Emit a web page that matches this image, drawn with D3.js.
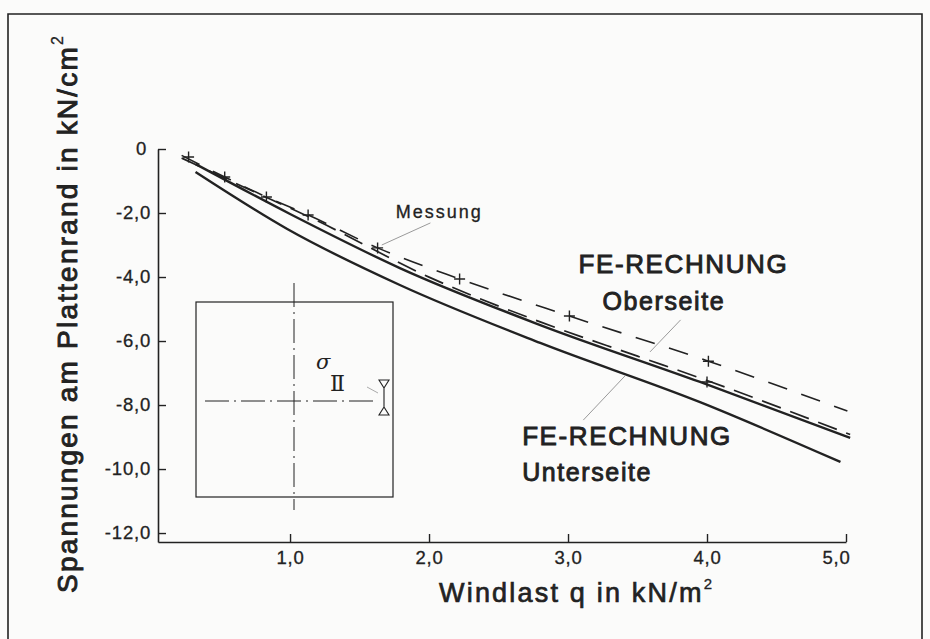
<!DOCTYPE html>
<html>
<head>
<meta charset="utf-8">
<script src="https://cdn.jsdelivr.net/npm/d3@7"></script>
<style>
  html, body { margin: 0; padding: 0; background: #fbfbfa; }
  svg { display: block; font-family: "Liberation Sans", Arial, Helvetica, sans-serif; }
</style>
</head>
<body>
<div id="chart"></div>
<script>
// Windlast q in kN/m2 against edge stress in kN/cm2
const qOberseite = [0.32, 1.0, 1.79, 2.8, 3.95, 5.03];
const sOberseite = [-0.47, -2.03, -3.72, -5.5, -7.28, -9.03];

const qUnterseite = [0.32, 0.98, 1.79, 2.8, 3.95, 4.96];
const sUnterseite = [-0.72, -2.5, -4.25, -6.06, -7.91, -9.78];

// measured points (crosses) and the dashed line through them
const qMessung = [0.27, 0.53, 0.83, 1.13, 1.63, 2.22, 3.01, 4.01];
const sMessung = [-0.25, -0.875, -1.5, -2.06, -3.09, -4.06, -5.22, -6.63];
const qMessLinie = [0.22, 0.53, 0.83, 1.13, 1.63, 2.22, 3.01, 4.01, 5.01];
const sMessLinie = [-0.2, -0.875, -1.5, -2.06, -3.09, -4.06, -5.22, -6.63, -8.19];

// second dashed line, lying on top of the Oberseite curve
const qMess2 = [0.22, 0.65, 1.2, 2.0, 2.8, 3.5, 4.0, 5.03];
const sMess2 = [-0.33, -1.2, -2.3, -4.05, -5.45, -6.52, -7.28, -8.97];
const qMess2Punkte = [4.0];
const sMess2Punkte = [-7.28];

const xTicks = [1, 2, 3, 4, 5];
const yTicks = [0, -2, -4, -6, -8, -10, -12];

const width = 930, height = 639;
const ink = "#222";

const x = d3.scaleLinear().domain([0.05, 5]).range([158, 846]);
const y = d3.scaleLinear().domain([-12.28, 0]).range([542, 149]);

const fmt = d => d === 0 ? "0" : d.toFixed(1).replace(".", ",");

const svg = d3.select("#chart").append("svg")
    .attr("width", width)
    .attr("height", height);

// page frame
svg.append("path")
    .attr("d", "M8,650 V14 H922 V650")
    .attr("fill", "none")
    .attr("stroke", ink)
    .attr("stroke-width", 1.6);

// axes
const xAxis = svg.append("g")
    .attr("transform", `translate(0,${y.range()[0]})`)
    .call(d3.axisBottom(x).tickValues(xTicks).tickFormat(fmt)
        .tickSizeInner(-8).tickSizeOuter(0).tickPadding(9));

const yAxis = svg.append("g")
    .attr("transform", `translate(${x.range()[0]},0)`)
    .call(d3.axisLeft(y).tickValues(yTicks).tickFormat(fmt)
        .tickSizeInner(-8).tickSizeOuter(0).tickPadding(7));

[xAxis, yAxis].forEach(g => {
  g.select(".domain").attr("stroke", ink).attr("stroke-width", 1.6);
  g.selectAll(".tick line").attr("stroke", ink).attr("stroke-width", 1.4);
  g.selectAll(".tick text")
      .attr("fill", ink)
      .attr("stroke", ink)
      .attr("stroke-width", 0.3)
      .style("font-size", "18.5px")
      .style("letter-spacing", "0.8px");
});
xAxis.selectAll(".tick text").filter(d => d === 5).attr("dx", -10);
yAxis.selectAll(".tick text").filter(d => d === 0).attr("dx", -4);

// axis titles
const xt = svg.append("text")
    .attr("x", 439)
    .attr("y", 602)
    .attr("fill", ink)
    .attr("stroke", ink)
    .attr("stroke-width", 0.7)
    .style("font-size", "27px")
    .style("letter-spacing", "2.2px")
    .text("Windlast q in kN/m");
xt.append("tspan").attr("dy", -13).attr("stroke-width", 0.3).style("font-size", "15px").text("2");

const yt = svg.append("text")
    .attr("transform", "translate(77,593) rotate(-90)")
    .attr("fill", ink)
    .attr("stroke", ink)
    .attr("stroke-width", 0.9)
    .style("font-size", "28px")
    .style("letter-spacing", "2.2px")
    .text("Spannungen am Plattenrand in kN/cm");
yt.append("tspan").attr("dy", -14).attr("stroke-width", 0.3).style("font-size", "16px").text("2");

// curves
const line = d3.line()
    .x(d => x(d[0]))
    .y(d => y(d[1]))
    .curve(d3.curveMonotoneX);

const series = [
  {q: qOberseite, s: sOberseite, w: 2.4, dash: null},
  {q: qUnterseite, s: sUnterseite, w: 2.4, dash: null},
  {q: qMessLinie, s: sMessLinie, w: 1.6, dash: "20,15"},
  {q: qMess2, s: sMess2, w: 1.7, dash: "20,10", dy: -1.5}
];

svg.append("g")
    .attr("fill", "none")
    .selectAll("path")
    .data(series)
    .join("path")
    .attr("transform", d => `translate(0,${d.dy || 0})`)
    .attr("stroke", ink)
    .attr("stroke-width", d => d.w)
    .attr("stroke-dasharray", d => d.dash)
    .attr("d", d => line(d3.zip(d.q, d.s)));

// crosses
const punkte = d3.zip(qMessung, sMessung).concat(d3.zip(qMess2Punkte, sMess2Punkte));
svg.append("g")
    .attr("stroke", ink)
    .attr("stroke-width", 1.4)
    .selectAll("path")
    .data(punkte)
    .join("path")
    .attr("d", d => `M${x(d[0]) - 5.5},${y(d[1])}h11M${x(d[0])},${y(d[1]) - 5.5}v11`);

// labels and leader lines (in data units)
const leaders = [
  [[2.01, -2.31], [1.66, -3.0]],
  [[3.81, -5.34], [3.59, -6.34]],
  [[3.41, -7.09], [3.11, -8.47]]
];
svg.append("g")
    .attr("stroke", "#9a9a9a")
    .attr("stroke-width", 1)
    .selectAll("line")
    .data(leaders)
    .join("line")
    .attr("x1", d => x(d[0][0])).attr("y1", d => y(d[0][1]))
    .attr("x2", d => x(d[1][0])).attr("y2", d => y(d[1][1]));

const labels = [
  {t: "Messung", q: 1.76, s: -2.16, size: 18, sw: 0.3, ls: 2, anchor: "start"},
  {t: "FE-RECHNUNG", q: 3.83, s: -3.875, size: 26, sw: 0.9, ls: 1.6, anchor: "middle"},
  {t: "Oberseite", q: 3.69, s: -5.03, size: 25, sw: 0.9, ls: 1.6, anchor: "middle"},
  {t: "FE-RECHNUNG", q: 2.67, s: -9.25, size: 26, sw: 0.9, ls: 1.6, anchor: "start"},
  {t: "Unterseite", q: 2.67, s: -10.375, size: 25, sw: 0.9, ls: 1.6, anchor: "start"}
];
svg.append("g")
    .selectAll("text")
    .data(labels)
    .join("text")
    .attr("x", d => x(d.q))
    .attr("y", d => y(d.s))
    .attr("text-anchor", d => d.anchor)
    .attr("fill", ink)
    .attr("stroke", ink)
    .attr("stroke-width", d => d.sw)
    .style("font-size", d => d.size + "px")
    .style("letter-spacing", d => d.ls + "px")
    .text(d => d.t);

// inset sketch of the plate
const inset = svg.append("g").attr("stroke", ink).attr("fill", "none");
inset.append("rect")
    .attr("x", 196).attr("y", 302).attr("width", 197).attr("height", 195)
    .attr("stroke-width", 1.2);
inset.append("line")
    .attr("x1", 294).attr("y1", 283).attr("x2", 294).attr("y2", 510)
    .attr("stroke-width", 1).attr("stroke-dasharray", "24,5,2,5");
inset.append("line")
    .attr("x1", 205).attr("y1", 401).attr("x2", 373).attr("y2", 401)
    .attr("stroke-width", 1).attr("stroke-dasharray", "24,5,2,5");
inset.append("path")
    .attr("d", "M379,380H389L384,388ZM384,388V407M384,407L379,415H389Z")
    .attr("stroke-width", 1.1);
inset.append("line")
    .attr("x1", 367).attr("y1", 387).attr("x2", 378).attr("y2", 393)
    .attr("stroke", "#aaa").attr("stroke-width", 1);
svg.append("text")
    .attr("x", 316).attr("y", 369)
    .attr("fill", ink)
    .style("font-family", "'DejaVu Serif', 'Liberation Serif', serif")
    .style("font-style", "italic")
    .style("font-size", "21px")
    .text("σ");
svg.append("text")
    .attr("x", 330).attr("y", 391)
    .attr("fill", ink)
    .style("font-family", "'DejaVu Serif', 'Liberation Serif', serif")
    .style("font-size", "22px")
    .text("Ⅱ");
</script>
</body>
</html>
